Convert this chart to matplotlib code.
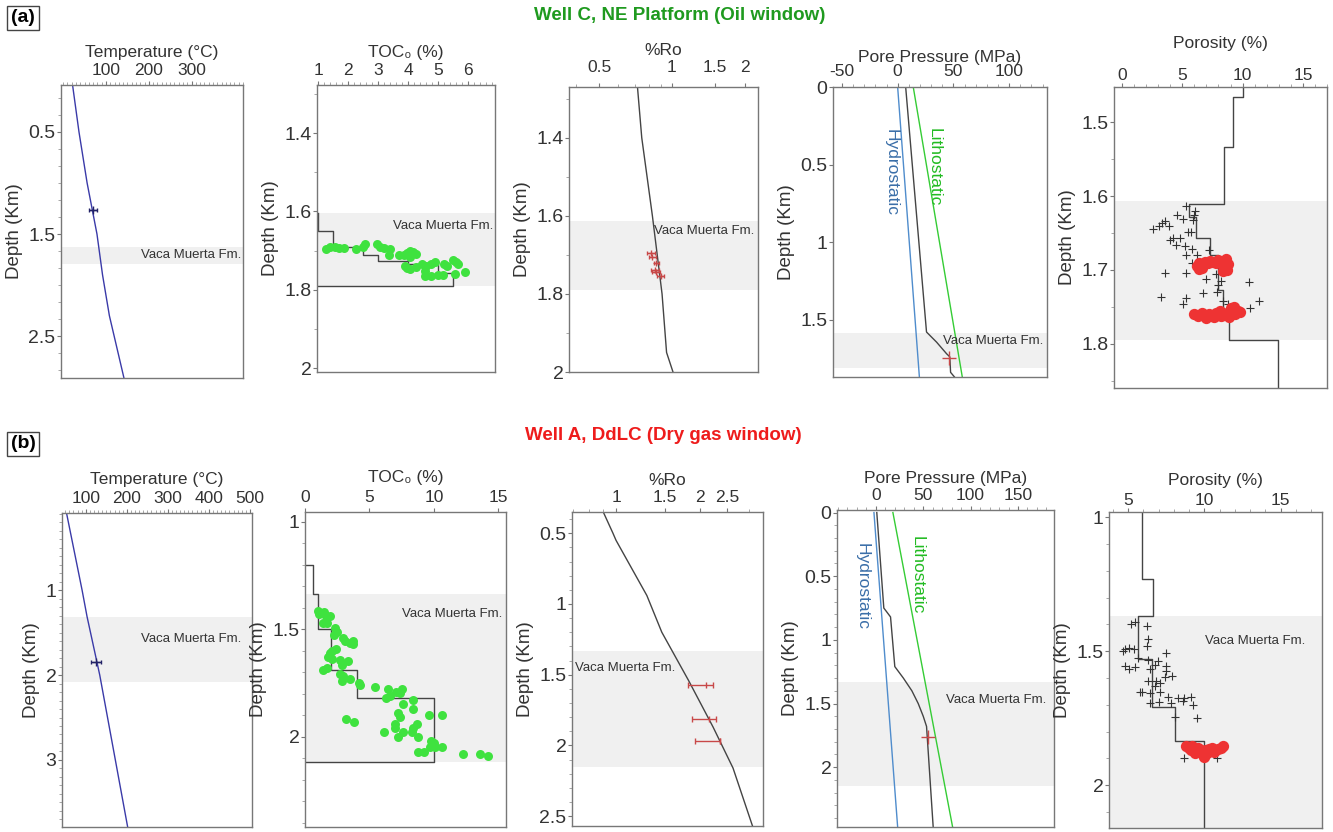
import matplotlib
matplotlib.use("Agg")
import matplotlib.pyplot as plt
from matplotlib.ticker import MultipleLocator, NullFormatter, FixedLocator, FixedFormatter

plt.rcParams['font.family'] = ['Liberation Sans', 'DejaVu Sans']

# ---------------- (a) Well C, NE Platform ----------------
# temperature
temp_a_depth = [0.04, 0.5, 1.0, 1.5, 1.9, 2.3, 2.91]
temp_a = [22, 37, 56, 79, 92, 108, 142]
temp_a_pt_depth = [1.26]
temp_a_pt = [70]
temp_a_pt_err = [9]

# TOC0 step profile + samples
toc_a_step_x = [1.0, 1.0, 1.5, 1.5, 2.5, 2.5, 3.0, 3.0, 4.0, 4.0, 5.0, 5.0, 5.5, 5.5, 0.95]
toc_a_step_d = [1.605, 1.65, 1.65, 1.692, 1.692, 1.712, 1.712, 1.726, 1.726, 1.733, 1.733, 1.758, 1.758, 1.79, 1.79]
toc_a_x = [1.25, 1.4, 1.55, 1.7, 1.85, 2.25, 2.5, 2.55, 2.95, 3.05, 3.2, 3.4, 3.35, 3.7, 3.85,
           3.95, 4.05, 4.15, 4.25, 4.05, 3.9, 3.95, 4.05, 4.25, 4.45, 4.6, 4.55, 4.75, 4.9, 5.2,
           5.3, 5.5, 5.6, 5.65, 4.55, 4.75, 5.0, 5.15, 5.55, 5.9]
toc_a_d = [1.695, 1.692, 1.690, 1.693, 1.694, 1.697, 1.692, 1.682, 1.684, 1.692, 1.693, 1.697, 1.712, 1.712, 1.712,
           1.706, 1.702, 1.704, 1.708, 1.716, 1.738, 1.745, 1.748, 1.742, 1.734, 1.740, 1.752, 1.734, 1.728, 1.735,
           1.740, 1.725, 1.728, 1.734, 1.765, 1.764, 1.763, 1.762, 1.760, 1.755]

# vitrinite reflectance
ro_a_depth = [1.27, 1.4, 1.6, 1.8, 1.95, 2.0]
ro_a = [0.72, 0.75, 0.83, 0.91, 0.95, 1.01]
ro_a_pt_depth = [1.695, 1.705, 1.72, 1.74, 1.745, 1.755]
ro_a_pt = [0.82, 0.83, 0.86, 0.85, 0.86, 0.90]
ro_a_pt_err = [0.03, 0.03, 0.02, 0.03, 0.03, 0.03]

# pore pressure
pp_a_hydro_d = [0.0, 1.87]
pp_a_hydro = [0.0, 19.5]
pp_a_litho_d = [0.0, 1.87]
pp_a_litho = [14.0, 58.0]
pp_a_depth = [0.0, 1.58, 1.645, 1.72, 1.74, 1.84, 1.87]
pp_a = [7.2, 25.9, 34.9, 43.9, 46.8, 47.5, 51.0]
pp_a_pt_depth = [1.745]
pp_a_pt = [46.3]

# porosity
por_a_step_x = [10.0, 10.0, 9.2, 9.2, 8.45, 8.45, 5.55, 5.55, 6.1, 6.1, 7.3, 7.3, 7.95, 7.95,
                8.4, 8.4, 8.9, 8.9, 12.9, 12.9]
por_a_step_d = [1.452, 1.466, 1.466, 1.534, 1.534, 1.611, 1.611, 1.628, 1.628, 1.657, 1.657, 1.68, 1.68, 1.727,
                1.727, 1.763, 1.763, 1.795, 1.795, 1.86]
por_a_cross_x = [5.3, 6.05, 6.0, 4.55, 5.1, 5.9, 3.6, 3.3, 3.1, 2.55, 3.9, 5.5, 5.7, 4.2, 4.8, 4.0, 4.5, 5.2,
                 5.35, 5.8, 6.2, 5.8, 7.25, 7.0, 3.6, 5.3, 7.0, 7.8, 8.25, 10.5, 3.2, 5.3, 5.1, 6.7, 7.9,
                 8.35, 8.8, 10.6, 11.4, 8.0]
por_a_cross_d = [1.613, 1.62, 1.625, 1.625, 1.631, 1.632, 1.634, 1.637, 1.64, 1.645, 1.64, 1.649, 1.649, 1.657,
                 1.657, 1.66, 1.666, 1.668, 1.68, 1.672, 1.68, 1.69, 1.673, 1.69, 1.704, 1.704, 1.712, 1.706,
                 1.715, 1.716, 1.736, 1.738, 1.746, 1.731, 1.73, 1.742, 1.746, 1.752, 1.742, 1.72]
por_a_dot_x = [6.2, 6.4, 6.5, 6.7, 6.9, 7.1, 7.3, 7.5, 7.8, 8.0, 8.3, 8.5, 8.7, 8.8, 8.6, 6.4, 6.6, 8.4,
               6.0, 6.3, 6.6, 6.9, 7.2, 7.5, 7.8, 8.1, 8.4, 8.7, 9.0, 9.3, 9.6, 9.8, 7.0, 7.6, 8.2, 8.9, 9.4]
por_a_dot_d = [1.694, 1.690, 1.698, 1.692, 1.689, 1.690, 1.688, 1.689, 1.690, 1.686, 1.690, 1.699, 1.700, 1.692,
               1.685, 1.699, 1.697, 1.702,
               1.760, 1.762, 1.758, 1.763, 1.760, 1.762, 1.758, 1.756, 1.761, 1.758, 1.752, 1.750, 1.755, 1.757,
               1.765, 1.764, 1.763, 1.764, 1.760]

# ---------------- (b) Well A, DdLC ----------------
temp_b_depth = [0.09, 1.0, 1.31, 2.0, 3.79]
temp_b = [53, 91, 103, 134, 202]
temp_b_pt_depth = [1.84]
temp_b_pt = [124]
temp_b_pt_err = [12]

toc_b_step_x = [0.0, 0.6, 0.6, 1.0, 1.0, 2.0, 2.0, 4.0, 4.0, 10.0, 10.0, 0.0]
toc_b_step_d = [1.2, 1.2, 1.335, 1.335, 1.5, 1.5, 1.69, 1.69, 1.82, 1.82, 2.12, 2.12]
toc_b_x = [1.03, 1.1, 1.5, 1.6, 1.94, 1.42, 1.68, 2.3, 2.45, 2.25, 2.97, 3.1, 3.5, 3.75, 3.7, 2.4, 2.07,
           1.94, 1.81, 2.07, 2.7, 2.84, 3.35, 1.37, 1.68, 2.7, 2.97, 2.9, 3.5, 4.2, 4.26, 5.4, 6.46,
           6.6, 6.3, 7.1, 7.4, 7.5, 8.4, 7.6, 8.4, 7.2, 7.4, 7.0, 7.0, 6.1, 7.2, 7.6, 8.3, 8.4, 8.7,
           8.8, 9.6, 10.6, 3.2, 3.8, 9.8, 10.0, 9.7, 10.1, 10.6, 8.8, 9.2, 12.3, 13.6, 14.2]
toc_b_d = [1.417, 1.43, 1.42, 1.44, 1.44, 1.47, 1.47, 1.495, 1.515, 1.525, 1.54, 1.556, 1.564, 1.57, 1.556,
           1.59, 1.6, 1.61, 1.63, 1.64, 1.645, 1.665, 1.65, 1.69, 1.68, 1.71, 1.72, 1.74, 1.73, 1.75,
           1.76, 1.77, 1.78, 1.81, 1.82, 1.79, 1.795, 1.78, 1.83, 1.85, 1.87, 1.89, 1.91, 1.94, 1.96,
           1.98, 2.0, 1.98, 1.98, 1.96, 1.94, 2.0, 1.9, 1.9, 1.92, 1.93, 2.02, 2.03, 2.05, 2.05, 2.05,
           2.07, 2.07, 2.08, 2.08, 2.09]

ro_b_depth = [0.35, 0.5, 0.55, 0.94, 1.2, 1.54, 1.87, 2.16, 2.57]
ro_b = [0.90, 0.975, 1.0, 1.29, 1.46, 1.82, 2.23, 2.63, 3.09]
ro_b_pt_depth = [1.57, 1.81, 1.97]
ro_b_pt = [2.10, 2.15, 2.36]
ro_b_pt_lo = [1.81, 1.87, 1.92]
ro_b_pt_hi = [2.23, 2.28, 2.37]

pp_b_hydro_d = [0.0, 2.47]
pp_b_hydro = [-2.0, 23.0]
pp_b_litho_d = [0.0, 2.47]
pp_b_litho = [18.0, 81.0]
pp_b_depth = [0.0, 0.75, 0.82, 1.21, 1.3, 1.4, 1.5, 1.6, 1.68, 2.47]
pp_b = [1.0, 8.4, 15.5, 20.0, 29.0, 38.0, 44.7, 50.0, 53.5, 60.5]
pp_b_pt_depth = [1.76]
pp_b_pt = [54.6]

por_b_step_x = [5.9, 5.9, 6.65, 6.65, 5.65, 5.65, 6.55, 6.55, 8.07, 8.07, 10.0, 10.0]
por_b_step_d = [0.98, 1.23, 1.23, 1.37, 1.37, 1.53, 1.53, 1.71, 1.71, 1.835, 1.835, 2.16]
por_b_cross_x = [5.17, 5.45, 6.25, 6.33, 6.25, 4.8, 5.1, 4.7, 5.4, 5.68, 7.5, 4.8, 5.1, 5.45, 6.33, 6.97,
                 6.8, 7.5, 6.44, 7.5, 7.9, 6.33, 6.86, 6.75, 7.1, 7.4, 5.9, 5.8, 6.44, 7.1, 7.64, 8.3,
                 8.7, 9.1, 6.44, 7.0, 7.8, 8.6, 9.27, 8.07, 9.53, 8.7, 10.8]
por_b_cross_d = [1.397, 1.39, 1.405, 1.455, 1.48, 1.49, 1.487, 1.5, 1.49, 1.525, 1.505, 1.555, 1.567, 1.557,
                 1.532, 1.535, 1.55, 1.555, 1.567, 1.575, 1.594, 1.61, 1.61, 1.63, 1.62, 1.598, 1.654,
                 1.654, 1.657, 1.654, 1.669, 1.675, 1.675, 1.672, 1.694, 1.691, 1.694, 1.684, 1.70, 1.744,
                 1.75, 1.90, 1.90]
por_b_dot_x = [8.8, 9.0, 9.2, 9.3, 9.5, 9.6, 9.8, 9.9, 10.0, 10.1, 10.3, 10.5, 10.7, 10.9, 11.1, 11.2,
               9.4, 9.7, 10.0, 10.2, 10.6, 9.1]
por_b_dot_d = [1.855, 1.86, 1.855, 1.87, 1.865, 1.86, 1.87, 1.88, 1.89, 1.87, 1.865, 1.86, 1.87, 1.865,
               1.86, 1.855, 1.88, 1.875, 1.895, 1.88, 1.875, 1.87]

band_a = [(1.63, 1.79), (1.605, 1.79), (1.613, 1.79), (1.587, 1.81), (1.607, 1.795)]
band_b = [(1.31, 2.08), (1.335, 2.12), (1.33, 2.15), (1.33, 2.15), (1.37, 2.2)]

BAND = '#f0f0f0'
STEP = '#444444'
GREEN_DOT = '#3fe23f'
RED_DOT = '#ee3333'
RED_ERR = '#c84848'
NAVY = '#3a3aa8'
HYDRO = '#4f8ccc'
LITHO = '#35cc35'

W, H = 1333, 832
fig = plt.figure(figsize=(W / 100, H / 100), dpi=100)


def make_ax(x0, y0, x1, y1):
    return fig.add_axes([x0 / W, 1 - y1 / H, (x1 - x0) / W, (y1 - y0) / H])


def setup(ax, title, xlim, ylim, xticks, yticks, xminor=None, yminor=None, log=False,
          labelpad=3, tickpad=2):
    if log:
        ax.set_xscale('log')
    ax.set_xlim(*xlim)
    ax.set_ylim(*ylim)
    ax.xaxis.tick_top()
    ax.xaxis.set_label_position('top')
    ax.xaxis.set_major_locator(FixedLocator(xticks))
    ax.xaxis.set_major_formatter(FixedFormatter(['%g' % t for t in xticks]))
    if log:
        ax.xaxis.set_minor_formatter(NullFormatter())
    elif xminor:
        ax.xaxis.set_minor_locator(MultipleLocator(xminor))
    ax.yaxis.set_major_locator(FixedLocator(yticks))
    ax.yaxis.set_major_formatter(FixedFormatter(['%g' % t for t in yticks]))
    if yminor:
        ax.yaxis.set_minor_locator(MultipleLocator(yminor))
    ax.set_xlabel(title, fontsize=12.5, color='#333333', labelpad=labelpad)
    ax.set_ylabel('Depth (Km)', fontsize=13.5, color='#333333', labelpad=4)
    ax.tick_params(axis='x', which='major', labelsize=12.5, length=3, pad=tickpad,
                   color='#777777', labelcolor='#333333')
    ax.tick_params(axis='x', which='minor', length=2, color='#999999')
    ax.tick_params(axis='y', which='major', labelsize=14, length=3, pad=1,
                   color='#777777', labelcolor='#333333')
    ax.tick_params(axis='y', which='minor', length=2, color='#999999')
    for s in ax.spines.values():
        s.set_color('#777777')
        s.set_linewidth(1.0)


def vm_text(ax, x, y, ha='right'):
    ax.text(x, y, 'Vaca Muerta Fm.', fontsize=9.5, color='#333333', ha=ha, va='center')


# ---------- row (a) ----------
ax = make_ax(61, 85, 243, 378)
setup(ax, 'Temperature (°C)', (-5, 420), (2.91, 0.04), [100, 200, 300], [0.5, 1.5, 2.5],
      xminor=10, yminor=1 / 6, labelpad=4)
ax.axhspan(*band_a[0], color=BAND, lw=0, zorder=0)
ax.plot(temp_a, temp_a_depth, color=NAVY, lw=1.0)
ax.errorbar(temp_a_pt, temp_a_pt_depth, xerr=temp_a_pt_err, fmt='+', color='#222266',
            ms=6, elinewidth=1, capsize=1.5)
vm_text(ax, 415, 1.71)

ax = make_ax(317, 85, 495, 372)
setup(ax, 'TOC₀ (%)', (0.95, 6.9), (2.01, 1.277), [1, 2, 3, 4, 5, 6], [1.4, 1.6, 1.8, 2.0],
      xminor=0.2, yminor=0.1, labelpad=4)
ax.axhspan(*band_a[1], color=BAND, lw=0, zorder=0)
ax.plot(toc_a_step_x, toc_a_step_d, color=STEP, lw=1.0)
ax.scatter(toc_a_x, toc_a_d, s=42, color=GREEN_DOT, lw=0, zorder=3)
vm_text(ax, 6.85, 1.636)

ax = make_ax(569, 87, 758, 372)
setup(ax, '%Ro', (0.375, 2.27), (2.0, 1.27), [0.5, 1, 1.5, 2], [1.4, 1.6, 1.8, 2.0],
      yminor=0.1, log=True, labelpad=3, tickpad=6)
ax.axhspan(*band_a[2], color=BAND, lw=0, zorder=0)
ax.plot(ro_a, ro_a_depth, color=STEP, lw=1.0)
ax.errorbar(ro_a_pt, ro_a_pt_depth, xerr=ro_a_pt_err, fmt='+', color=RED_ERR,
            ms=5, elinewidth=1, capsize=1.5, zorder=3)
vm_text(ax, 2.2, 1.64)

ax = make_ax(833, 87, 1047, 377)
setup(ax, 'Pore Pressure (MPa)', (-58, 134), (1.87, 0), [-50, 0, 50, 100], [0, 0.5, 1.0, 1.5],
      xminor=10, labelpad=1, tickpad=3)
ax.axhspan(*band_a[3], color=BAND, lw=0, zorder=0)
ax.plot(pp_a_hydro, pp_a_hydro_d, color=HYDRO, lw=1.0)
ax.plot(pp_a_litho, pp_a_litho_d, color=LITHO, lw=1.0)
ax.plot(pp_a, pp_a_depth, color=STEP, lw=1.0)
ax.plot(pp_a_pt, pp_a_pt_depth, '+', color=RED_ERR, ms=10, mew=1)
ax.text(-6, 0.55, 'Hydrostatic', rotation=-90, color='#3a6ea8', fontsize=12.5, ha='center', va='center')
ax.text(33, 0.52, 'Lithostatic', rotation=-90, color='#22bb22', fontsize=12.5, ha='center', va='center')
vm_text(ax, 131, 1.64)

ax = make_ax(1114, 87, 1327, 388)
setup(ax, 'Porosity (%)', (-0.66, 17.0), (1.86, 1.452), [0, 5, 10, 15], [1.5, 1.6, 1.7, 1.8],
      xminor=1, yminor=0.05, labelpad=14, tickpad=0)
ax.axhspan(*band_a[4], color=BAND, lw=0, zorder=0)
ax.plot(por_a_step_x, por_a_step_d, color=STEP, lw=1.0)
ax.plot(por_a_cross_x, por_a_cross_d, '+', color='#333333', ms=6, mew=0.8)
ax.scatter(por_a_dot_x, por_a_dot_d, s=66, color=RED_DOT, lw=0, zorder=3)

# ---------- row (b) ----------
ax = make_ax(62, 513, 252, 827)
setup(ax, 'Temperature (°C)', (42, 505), (3.79, 0.09), [100, 200, 300, 400, 500], [1, 2, 3],
      xminor=10, yminor=0.1, labelpad=5)
ax.axhspan(*band_b[0], color=BAND, lw=0, zorder=0)
ax.plot(temp_b, temp_b_depth, color=NAVY, lw=1.0)
ax.errorbar(temp_b_pt, temp_b_pt_depth, xerr=temp_b_pt_err, fmt='+', color='#222266',
            ms=6, elinewidth=1, capsize=1.5)
vm_text(ax, 480, 1.58)

ax = make_ax(305, 512, 506, 827)
setup(ax, 'TOC₀ (%)', (0, 15.6), (2.42, 0.955), [0, 5, 10, 15], [1, 1.5, 2],
      yminor=0.1, labelpad=6)
ax.axhspan(*band_b[1], color=BAND, lw=0, zorder=0)
ax.plot(toc_b_step_x, toc_b_step_d, color=STEP, lw=1.0)
ax.scatter(toc_b_x, toc_b_d, s=42, color=GREEN_DOT, lw=0, zorder=3)
vm_text(ax, 15.3, 1.43)

ax = make_ax(572, 512, 763, 826)
setup(ax, '%Ro', (0.695, 3.37), (2.57, 0.35), [1, 1.5, 2, 2.5], [0.5, 1, 1.5, 2, 2.5],
      yminor=0.1, log=True, labelpad=4)
ax.axhspan(*band_b[2], color=BAND, lw=0, zorder=0)
ax.plot(ro_b, ro_b_depth, color=STEP, lw=1.0)
ro_b_err = [[c - lo for c, lo in zip(ro_b_pt, ro_b_pt_lo)],
            [hi - c for c, hi in zip(ro_b_pt, ro_b_pt_hi)]]
ax.errorbar(ro_b_pt, ro_b_pt_depth, xerr=ro_b_err, fmt='|', color=RED_ERR,
            ms=5, elinewidth=1, capsize=2, zorder=3)
vm_text(ax, 0.715, 1.45, ha='left')

ax = make_ax(837, 510, 1054, 827)
setup(ax, 'Pore Pressure (MPa)', (-41, 188), (2.47, -0.02), [0, 50, 100, 150], [0, 0.5, 1, 1.5, 2],
      xminor=10, yminor=0.1, labelpad=4)
ax.axhspan(*band_b[3], color=BAND, lw=0, zorder=0)
ax.plot(pp_b_hydro, pp_b_hydro_d, color=HYDRO, lw=1.0)
ax.plot(pp_b_litho, pp_b_litho_d, color=LITHO, lw=1.0)
ax.plot(pp_b, pp_b_depth, color=STEP, lw=1.0)
ax.plot(pp_b_pt, pp_b_pt_depth, '+', color=RED_ERR, ms=10, mew=1)
ax.text(-14, 0.58, 'Hydrostatic', rotation=-90, color='#3a6ea8', fontsize=12.5, ha='center', va='center')
ax.text(44, 0.49, 'Lithostatic', rotation=-90, color='#22bb22', fontsize=12.5, ha='center', va='center')
vm_text(ax, 180, 1.47)

ax = make_ax(1109, 512, 1322, 828)
setup(ax, 'Porosity (%)', (3.76, 17.7), (2.16, 0.98), [5, 10, 15], [1, 1.5, 2],
      xminor=1, yminor=0.1, labelpad=6, tickpad=0)
ax.axhspan(*band_b[4], color=BAND, lw=0, zorder=0)
ax.plot(por_b_step_x, por_b_step_d, color=STEP, lw=1.0)
ax.plot(por_b_cross_x, por_b_cross_d, '+', color='#333333', ms=6, mew=0.8)
ax.scatter(por_b_dot_x, por_b_dot_d, s=66, color=RED_DOT, lw=0, zorder=3)
vm_text(ax, 16.6, 1.463)

# titles and panel letters
fig.text(680 / W, 1 - 15 / H, 'Well C, NE Platform (Oil window)', fontsize=13.5, fontweight='bold',
         color='#1f9a1f', ha='center', va='center')
fig.text(663 / W, 1 - 436 / H, 'Well A, DdLC (Dry gas window)', fontsize=13.5, fontweight='bold',
         color='#ee1c1c', ha='center', va='center')
box = dict(boxstyle='square,pad=0.2', fc='white', ec='#444444', lw=1)
fig.text(23 / W, 1 - 18 / H, '(a)', fontsize=14, fontweight='bold', ha='center', va='center', bbox=box)
fig.text(23 / W, 1 - 444 / H, '(b)', fontsize=14, fontweight='bold', ha='center', va='center', bbox=box)

fig.savefig('out.png', dpi=100)
